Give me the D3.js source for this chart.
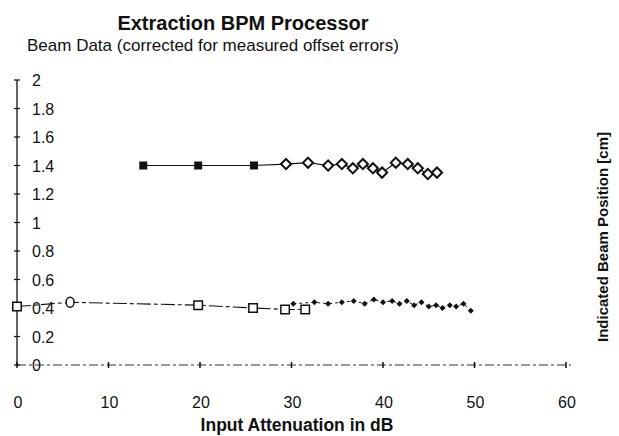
<!DOCTYPE html>
<html><head><meta charset="utf-8">
<script src="https://cdn.jsdelivr.net/npm/d3@7"></script>
<style>body{margin:0;background:#fff}svg{display:block;font-family:"Liberation Sans",Arial,sans-serif}</style>
</head><body><svg id="c" width="619" height="436"></svg>
<script>
// ---- data ----
const xTicks = [0, 10, 20, 30, 40, 50, 60];
const yTicks = [0, 0.2, 0.4, 0.6, 0.8, 1, 1.2, 1.4, 1.6, 1.8, 2];
const yTickLabels = ["0", "0.2", "0.4", "0.6", "0.8", "1", "1.2", "1.4", "1.6", "1.8", "2"];
// upper trace: filled squares then open diamonds
const upperFilledX = [13.8, 19.8, 25.9];
const upperFilledY = [1.40, 1.40, 1.40];
const upperOpenX = [29.4, 31.8, 34.0, 35.5, 36.7, 37.8, 38.9, 39.9, 41.4, 42.7, 43.8, 44.9, 45.9];
const upperOpenY = [1.41, 1.42, 1.40, 1.41, 1.38, 1.41, 1.38, 1.35, 1.42, 1.41, 1.38, 1.34, 1.35];
// lower trace: open squares (and one open circle), then small filled diamonds
const lowerOpenX = [0, 5.8, 19.8, 25.8, 29.3, 31.5];
const lowerOpenY = [0.41, 0.44, 0.42, 0.40, 0.39, 0.39];
const lowerOpenShape = ["square", "circle", "square", "square", "square", "square"];
const lowerDiamX = [30.2, 32.5, 34.0, 35.5, 36.8, 38.0, 39.0, 40.0, 41.0, 41.8, 42.6, 43.4, 44.2, 45.0, 45.8, 46.5, 47.3, 48.0, 48.8, 49.6];
const lowerDiamY = [0.43, 0.44, 0.43, 0.44, 0.45, 0.43, 0.46, 0.44, 0.45, 0.43, 0.45, 0.42, 0.44, 0.41, 0.42, 0.40, 0.42, 0.41, 0.43, 0.38];

const title = "Extraction BPM Processor";
const subtitle = "Beam Data (corrected for measured offset errors)";
const xTitle = "Input Attenuation in dB";
const yTitle = "Indicated Beam Position [cm]";

// ---- drawing ----
const svg = d3.select("#c");
const ink = "#111";
const x = d3.scaleLinear().domain([0, 60]).range([17, 566]);
const y = d3.scaleLinear().domain([0, 2]).range([365, 80]);

svg.append("text").attr("x", 243).attr("y", 30).attr("text-anchor", "middle")
  .attr("font-size", 20).attr("font-weight", "bold").attr("fill", ink).text(title);
svg.append("text").attr("x", 27).attr("y", 51)
  .attr("font-size", 17).attr("fill", ink).text(subtitle);

// y axis
svg.append("line").attr("x1", x(0)).attr("x2", x(0)).attr("y1", y(2)).attr("y2", y(0))
  .attr("stroke", ink).attr("stroke-width", 1.3);
svg.selectAll(".yt").data(yTicks).join("line")
  .attr("x1", x(0) - 3).attr("x2", x(0) + 3).attr("y1", d => y(d)).attr("y2", d => y(d))
  .attr("stroke", ink).attr("stroke-width", 1.2);
svg.selectAll(".yl").data(yTicks).join("text")
  .attr("x", 32).attr("y", d => y(d) + 6).attr("font-size", 16).attr("fill", ink)
  .text((d, i) => yTickLabels[i]);

// x axis (scanned, broken line)
svg.append("line").attr("x1", x(0)).attr("x2", 571).attr("y1", y(0)).attr("y2", y(0))
  .attr("stroke", "#333").attr("stroke-width", 1).attr("stroke-dasharray", "9,3,3,3");
svg.selectAll(".xt").data(xTicks).join("line")
  .attr("x1", d => x(d)).attr("x2", d => x(d)).attr("y1", y(0) - 3).attr("y2", y(0) + 3)
  .attr("stroke", ink).attr("stroke-width", 1.5);
svg.selectAll(".xl").data(xTicks).join("text")
  .attr("x", d => x(d) + 1).attr("y", 408).attr("text-anchor", "middle")
  .attr("font-size", 16).attr("fill", ink).text(d => d);

svg.append("text").attr("x", 297).attr("y", 431).attr("text-anchor", "middle")
  .attr("font-size", 17.5).attr("font-weight", "bold").attr("fill", ink).text(xTitle);
svg.append("text").attr("transform", "translate(608,237) rotate(-90)").attr("text-anchor", "middle")
  .attr("font-size", 15).attr("font-weight", "bold").attr("fill", ink).text(yTitle);

const line = d3.line().x(d => x(d[0])).y(d => y(d[1]));

// upper trace line
const upperPts = upperFilledX.map((v, i) => [v, upperFilledY[i]])
  .concat(upperOpenX.map((v, i) => [v, upperOpenY[i]]));
svg.append("path").attr("d", line(upperPts)).attr("fill", "none")
  .attr("stroke", ink).attr("stroke-width", 1.2);

// lower trace lines
const lowerOpenPts = lowerOpenX.map((v, i) => [v, lowerOpenY[i]]);
svg.append("path").attr("d", line(lowerOpenPts)).attr("fill", "none")
  .attr("stroke", ink).attr("stroke-width", 1.1).attr("stroke-dasharray", "14,3,4,3");
const lowerDiamPts = lowerDiamX.map((v, i) => [v, lowerDiamY[i]]);
svg.append("path").attr("d", line(lowerDiamPts)).attr("fill", "none")
  .attr("stroke", ink).attr("stroke-width", 1).attr("stroke-dasharray", "3,3");

// markers
const sq = d3.symbol().type(d3.symbolSquare);
svg.selectAll(".uf").data(upperPts.slice(0, upperFilledX.length)).join("path")
  .attr("d", sq.size(64)()).attr("transform", d => `translate(${x(d[0])},${y(d[1])})`)
  .attr("fill", ink);
svg.selectAll(".uo").data(upperPts.slice(upperFilledX.length)).join("path")
  .attr("d", sq.size(52)()).attr("transform", d => `translate(${x(d[0])},${y(d[1])}) rotate(45)`)
  .attr("fill", "#fff").attr("stroke", ink).attr("stroke-width", 2);

svg.selectAll(".ld").data(lowerDiamPts).join("path")
  .attr("d", sq.size(18)()).attr("transform", d => `translate(${x(d[0])},${y(d[1])}) rotate(45)`)
  .attr("fill", ink);

const lo = svg.selectAll(".lo").data(lowerOpenPts).join("g")
  .attr("transform", d => `translate(${x(d[0])},${y(d[1])})`);
lo.filter((d, i) => lowerOpenShape[i] === "square").append("path")
  .attr("d", sq.size(72)()).attr("fill", "#fff").attr("stroke", ink).attr("stroke-width", 1.5);
lo.filter((d, i) => lowerOpenShape[i] === "circle").append("ellipse")
  .attr("rx", 4).attr("ry", 5).attr("fill", "#fff").attr("stroke", ink).attr("stroke-width", 1.5);
</script></body></html>
